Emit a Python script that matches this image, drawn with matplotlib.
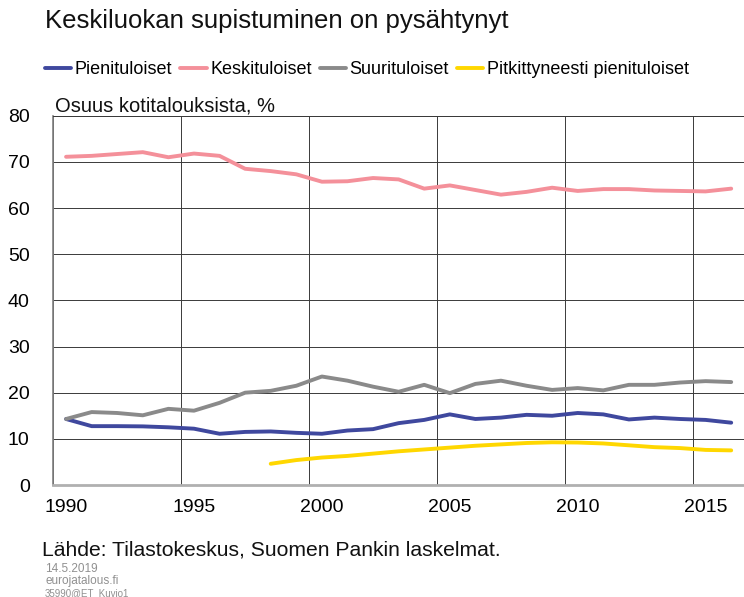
import matplotlib.pyplot as plt
import numpy as np

plt.rcParams['font.family'] = ['Liberation Sans', 'DejaVu Sans']

years = list(range(1990, 2017))

pienituloiset = [14.3, 12.75, 12.75, 12.7, 12.5, 12.2, 11.1, 11.5, 11.6, 11.3,
                 11.1, 11.8, 12.1, 13.4, 14.1, 15.3, 14.3, 14.6, 15.2, 15.0,
                 15.6, 15.3, 14.2, 14.6, 14.3, 14.1, 13.5]
keskituloiset = [71.1, 71.3, 71.7, 72.1, 71.0, 71.8, 71.3, 68.5, 68.0, 67.3,
                 65.7, 65.8, 66.5, 66.2, 64.2, 64.9, 63.9, 62.9, 63.5, 64.4,
                 63.7, 64.1, 64.1, 63.8, 63.7, 63.6, 64.2]
suurituloiset = [14.3, 15.8, 15.6, 15.1, 16.5, 16.1, 17.8, 20.0, 20.4, 21.5,
                 23.5, 22.6, 21.3, 20.2, 21.7, 19.9, 21.9, 22.6, 21.5, 20.6,
                 21.0, 20.5, 21.7, 21.7, 22.2, 22.5, 22.3]
pitkittyneesti = [None] * 8 + [4.6, 5.4, 5.95, 6.3, 6.8, 7.3, 7.7, 8.1, 8.5,
                               8.8, 9.1, 9.25, 9.2, 9.0, 8.6, 8.2, 8.0, 7.6, 7.5]

labels = ['Pienituloiset', 'Keskituloiset', 'Suurituloiset',
          'Pitkittyneesti pienituloiset']
colors = ['#3F489E', '#F4909A', '#8A8A8A', '#FFD700']
tick_years = [1990, 1995, 2000, 2005, 2010, 2015]

fig = plt.figure(figsize=(7.44, 5.97), dpi=100)
ax = fig.add_axes([0.0716, 0.1876, 0.9284, 0.6186])

# points sit in the middle of each year
x = np.array(years) + 0.5
series = [pienituloiset, keskituloiset, suurituloiset, pitkittyneesti]
lines = []
for vals, lab, col in zip(series, labels, colors):
    y = np.array([np.nan if v is None else v for v in vals], dtype=float)
    ln, = ax.plot(x, y, color=col, linewidth=2.8, label=lab,
                  solid_capstyle='round', solid_joinstyle='round', zorder=3)
    lines.append(ln)

ax.set_xlim(1990, 2017)
ax.set_ylim(0, 80)

ax.set_xticks(tick_years)
ax.set_xticklabels([])
ax.set_xticks(np.array(tick_years) + 0.5, minor=True)
ax.set_xticklabels([str(t) for t in tick_years], minor=True)
ax.tick_params(axis='x', which='both', length=0, labelsize=14, pad=10)
ax.set_yticks(range(0, 81, 10))
ax.tick_params(axis='y', length=0, labelsize=14, pad=17)

ax.grid(True, which='major', color='#3A3A3A', linewidth=0.7)
ax.set_axisbelow(True)

ax.spines['right'].set_visible(False)
ax.spines['top'].set_color('#3A3A3A')
ax.spines['top'].set_linewidth(0.7)
ax.spines['left'].set_color('#808080')
ax.spines['left'].set_linewidth(1.2)
ax.spines['bottom'].set_color('#B0B0B0')
ax.spines['bottom'].set_linewidth(2)

fig.text(45 / 744, 1 - 21 / 597, 'Keskiluokan supistuminen on pysähtynyt',
         fontsize=18.5, va='center', ha='left', color='#111111')
fig.legend(handles=lines, loc='center left',
           bbox_to_anchor=(45 / 744, 1 - 70 / 597), ncol=4, frameon=False,
           fontsize=13, handlelength=1.45, handletextpad=0.2,
           columnspacing=0.45, borderpad=0, borderaxespad=0)
fig.text(55 / 744, 1 - 106 / 597, 'Osuus kotitalouksista, %',
         fontsize=14.5, va='center', ha='left', color='#111111')

fig.text(42 / 744, 1 - 550 / 597,
         'Lähde: Tilastokeskus, Suomen Pankin laskelmat.',
         fontsize=15.2, va='center', ha='left', color='#111111')
fig.text(45 / 744, 1 - 569 / 597, '14.5.2019', fontsize=8.5,
         va='center', ha='left', color='#909090')
fig.text(45 / 744, 1 - 581 / 597, 'eurojatalous.fi', fontsize=8.5,
         va='center', ha='left', color='#909090')
fig.text(45 / 744, 1 - 593 / 597, '35990@ET_Kuvio1', fontsize=7,
         va='center', ha='left', color='#909090')

fig.savefig('out.png', dpi=100)
